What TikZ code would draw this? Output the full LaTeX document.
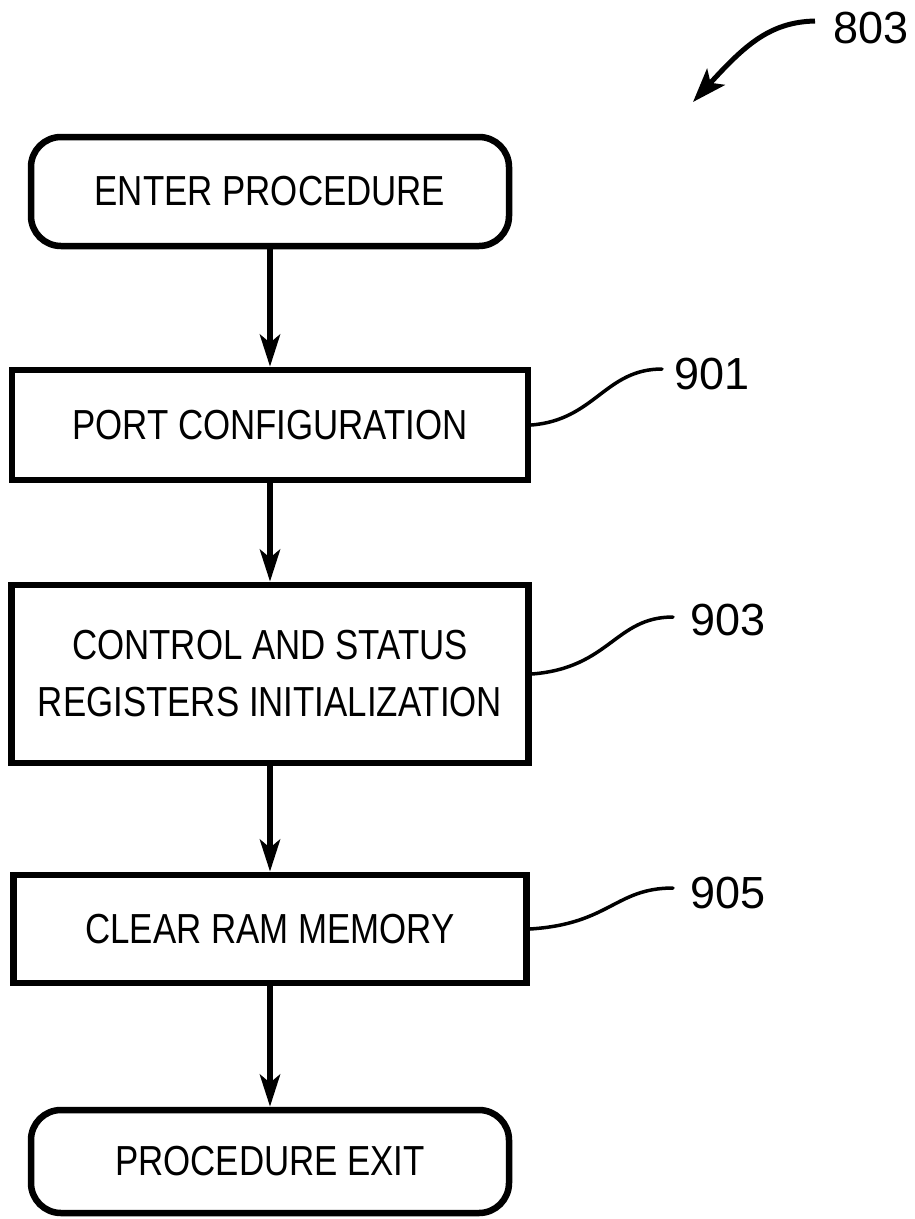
\documentclass[tikz,border=0pt]{standalone}
\usepackage{fontspec}
\setmainfont{Liberation Sans}
\newfontfamily\boxfont{Liberation Sans}[FakeStretch=0.83]
\usetikzlibrary{arrows.meta,calc}
\tikzset{
  stepbox/.style={draw, line width=6.5pt, rectangle, inner sep=0pt, align=center,
    font=\boxfont\fontsize{42}{57}\selectfont},
  termbox/.style={stepbox, rounded corners=30pt},
  flow/.style={line width=6pt, -{Stealth[length=32pt,width=20pt,inset=8pt]}},
  leader/.style={line width=3.5pt, line cap=round},
  reflabel/.style={inner sep=0pt, font=\fontsize{45}{50}\selectfont}
}
\begin{document}
\begin{tikzpicture}[x=1pt,y=-1pt]
\useasboundingbox (0,0) rectangle (915,1219);
\node[termbox, minimum width=478pt, minimum height=109pt] (enter) at (270,191.5) {ENTER PROCEDURE};
\node[stepbox, minimum width=516pt, minimum height=110pt] (port) at (270,425) {PORT CONFIGURATION};
\node[stepbox, minimum width=517pt, minimum height=178pt] (ctrl) at (270,674) {CONTROL AND STATUS\\REGISTERS INITIALIZATION};
\node[stepbox, minimum width=513pt, minimum height=108pt] (clear) at (270,929) {CLEAR RAM MEMORY};
\node[termbox, minimum width=478pt, minimum height=103pt] (exit) at (270,1161.5) {PROCEDURE EXIT};

\draw[flow] (enter.south) -- (port.north);
\draw[flow] (port.south) -- (ctrl.north);
\draw[flow] (ctrl.south) -- (clear.north);
\draw[flow] (clear.south) -- (exit.north);

\node[reflabel] (l803) at (871,28) {803};
\node[reflabel] (l901) at (712,374) {901};
\node[reflabel] (l903) at (728,620) {903};
\node[reflabel] (l905) at (728,893) {905};

\coordinate (e901) at (662,369);
\coordinate (e903) at (673,617);
\coordinate (e905) at (673,888);
\coordinate (t803) at (693,102);
\coordinate (s803) at (815,21);

\draw[leader] (port.east) .. controls (595,420) and (605,369) .. (e901);
\draw[leader] (ctrl.east) .. controls (610,668) and (615,617) .. (e903);
\draw[leader] (clear.east) .. controls (610,924) and (615,888) .. (e905);
\draw[line width=5pt, -{Stealth[length=34pt,width=24pt,inset=8pt]}] (s803) .. controls (770,22) and (745,45) .. (t803);
\end{tikzpicture}
\end{document}
